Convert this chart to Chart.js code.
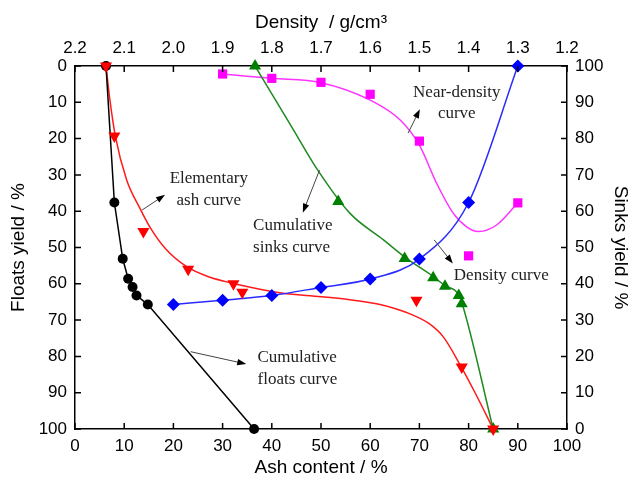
<!DOCTYPE html>
<html>
<head>
<meta charset="utf-8">
<script src="https://cdn.jsdelivr.net/npm/chart.js@4"></script>
<style>
  body { margin: 0; background: #fff; }
  canvas { display: block; }
</style>
</head>
<body>
<canvas id="washability" width="631" height="477"></canvas>
<script>
// cumulative floats (ash %, floats yield %)
const floatsAsh = [6.3, 8.0, 9.7, 10.8, 11.7, 12.5, 14.8, 36.4]
const floatsYield = [0, 37.6, 53.1, 58.6, 60.9, 63.2, 65.7, 100]

// elementary ash: measured points and the fitted curve
const elemAsh = [6.3, 8.0, 13.9, 23.0, 32.2, 34.0, 69.4, 78.6, 85]
const elemYield = [0, 19.3, 45.6, 56.0, 60.0, 62.3, 64.5, 82.9, 100]
const elemCurveAsh = [6.3, 7.1, 8.2, 10.5, 13.2, 15.2, 18.5, 22.7, 27, 32.2, 42.3, 47.8, 55.9, 61.3, 65, 68.1, 72, 74.9, 78.3, 81.5, 85]
const elemCurveYield = [0, 9.4, 19.3, 31.4, 39.2, 44.3, 50.5, 55.3, 58, 59.9, 62.6, 63.3, 64.4, 65.5, 66.8, 68.3, 71.0, 74.7, 82.4, 90.5, 100]

// cumulative sinks: points and curve
const sinksAsh = [36.6, 53.5, 67.0, 72.8, 75.2, 78.0, 78.6, 85]
const sinksYield = [0, 37.3, 53.0, 58.3, 60.7, 63.2, 65.5, 100]
const sinksCurveAsh = [36.6, 40, 44.4, 49.1, 55.9, 62.7, 67.4, 72.8, 75.2, 77.9, 78.7, 85]
const sinksCurveYield = [0, 7.7, 17.6, 28.2, 40.6, 47.9, 53.0, 58.0, 60.5, 62.8, 65.5, 100]

// density curve (density g/cm3, sinks yield %)
const densityD = [2.0, 1.9, 1.8, 1.7, 1.6, 1.5, 1.4, 1.3]
const densitySinks = [34.3, 35.5, 36.8, 39.0, 41.3, 46.8, 62.4, 100]

// near-density (±0.1) points and curve
const nearD = [1.9, 1.8, 1.7, 1.6, 1.5, 1.4, 1.3]
const nearSinks = [97.8, 96.6, 95.5, 92.2, 79.3, 47.7, 62.3]
const nearCurveD = [1.9, 1.8, 1.7, 1.6, 1.539, 1.5, 1.465, 1.431, 1.404, 1.38, 1.343, 1.3]
const nearCurveSinks = [97.8, 96.6, 95.4, 90.6, 85.1, 78.2, 67.7, 59.4, 55.7, 54.4, 56.2, 62.3]

const ashTicks = [0, 10, 20, 30, 40, 50, 60, 70, 80, 90, 100]
const densityTicks = [2.2, 2.1, 2.0, 1.9, 1.8, 1.7, 1.6, 1.5, 1.4, 1.3, 1.2]
const yieldTicks = [0, 10, 20, 30, 40, 50, 60, 70, 80, 90, 100]

const pts = (xs, ys) => xs.map((x, i) => ({x: x, y: ys[i]}))

// labels with arrows, placed in ash / floats-yield units
const notes = [
  {lines: ['Elementary', 'ash curve'], x: 27.2, y: [30.9, 37.1], align: 'center', arrow: [13.6, 39.7, 18.3, 35.5]},
  {lines: ['Cumulative', 'sinks curve'], x: 36.2, y: [44.0, 49.9], align: 'left', arrow: [49.7, 28.7, 46.3, 40.4]},
  {lines: ['Cumulative', 'floats curve'], x: 37.1, y: [80.2, 86.5], align: 'left', arrow: [23.5, 78.7, 34.8, 82.1]},
  {lines: ['Near-density', 'curve'], x: 77.6, y: [7.4, 13.2], align: 'center', arrow: [67.7, 18.5, 70.1, 11.9]},
  {lines: ['Density curve'], x: 77.0, y: [57.6], align: 'left', arrow: [73.0, 47.9, 76.8, 54.4]},
]

const notesPlugin = {
  id: 'notes',
  afterDatasetsDraw(chart) {
    const {ctx} = chart
    const sx = chart.scales.x, sy = chart.scales.y
    ctx.save()
    notes.forEach(n => {
      const [a1, b1, a2, b2] = n.arrow
      const x1 = sx.getPixelForValue(a1), y1 = sy.getPixelForValue(b1)
      const x2 = sx.getPixelForValue(a2), y2 = sy.getPixelForValue(b2)
      const ang = Math.atan2(y2 - y1, x2 - x1)
      ctx.strokeStyle = '#444'
      ctx.lineWidth = 1
      ctx.beginPath()
      ctx.moveTo(x1, y1)
      ctx.lineTo(x2 - 6 * Math.cos(ang), y2 - 6 * Math.sin(ang))
      ctx.stroke()
      ctx.fillStyle = '#000'
      ctx.beginPath()
      ctx.moveTo(x2, y2)
      ctx.lineTo(x2 - 9 * Math.cos(ang) + 3.2 * Math.sin(ang), y2 - 9 * Math.sin(ang) - 3.2 * Math.cos(ang))
      ctx.lineTo(x2 - 9 * Math.cos(ang) - 3.2 * Math.sin(ang), y2 - 9 * Math.sin(ang) + 3.2 * Math.cos(ang))
      ctx.closePath()
      ctx.fill()

      ctx.fillStyle = '#222'
      ctx.font = '17px "Liberation Serif", "Times New Roman", serif'
      ctx.textAlign = n.align
      ctx.textBaseline = 'middle'
      n.lines.forEach((t, i) => {
        ctx.fillText(t, sx.getPixelForValue(n.x), sy.getPixelForValue(n.y[i]))
      })
    })
    ctx.restore()
  }
}

// tick marks pointing into the plot on all four sides
const inwardTicks = {
  id: 'inwardTicks',
  afterDraw(chart) {
    const {ctx, chartArea} = chart
    const len = 6
    ctx.save()
    ctx.strokeStyle = '#000'
    ctx.lineWidth = 1.5
    ctx.beginPath()
    Object.values(chart.scales).forEach(s => {
      s.ticks.forEach(t => {
        const p = s.getPixelForValue(t.value)
        if (s.position === 'bottom') { ctx.moveTo(p, chartArea.bottom); ctx.lineTo(p, chartArea.bottom - len) }
        if (s.position === 'top') { ctx.moveTo(p, chartArea.top); ctx.lineTo(p, chartArea.top + len) }
        if (s.position === 'left') { ctx.moveTo(chartArea.left, p); ctx.lineTo(chartArea.left + len, p) }
        if (s.position === 'right') { ctx.moveTo(chartArea.right, p); ctx.lineTo(chartArea.right - len, p) }
      })
    })
    ctx.stroke()
    ctx.restore()
  }
}

const tickFont = {family: '"Liberation Sans", Arial, sans-serif', size: 17}
const titleFont = {family: '"Liberation Sans", Arial, sans-serif', size: 19, lineHeight: 1}

const axis = (extra) => Object.assign({
  type: 'linear',
  grid: {display: false, drawTicks: false},
  border: {display: true, color: '#000', width: 1.5},
}, extra)

const fixTicks = (values) => (scale) => { scale.ticks = values.map(v => ({value: v})) }

// first dataset is drawn on top
new Chart(document.getElementById('washability'), {
  type: 'scatter',
  data: {
    datasets: [
      {
        label: 'Elementary ash', data: pts(elemAsh, elemYield), xAxisID: 'x', yAxisID: 'y',
        showLine: false, pointStyle: 'triangle', pointRotation: 180, pointRadius: 7, backgroundColor: '#ff0000', pointBorderWidth: 0, clip: false,
      },
      {
        label: 'Cumulative sinks', data: pts(sinksAsh, sinksYield), xAxisID: 'x', yAxisID: 'y',
        showLine: false, pointStyle: 'triangle', pointRadius: 7, backgroundColor: '#008000', pointBorderWidth: 0, clip: false,
      },
      {
        label: 'Near-density', data: pts(nearD, nearSinks), xAxisID: 'x2', yAxisID: 'y2',
        showLine: false, pointStyle: 'rect', pointRadius: 6.5, backgroundColor: '#ff00ff', pointBorderWidth: 0, clip: false,
      },
      {
        label: 'Density curve', data: pts(densityD, densitySinks), xAxisID: 'x2', yAxisID: 'y2',
        showLine: true, cubicInterpolationMode: 'monotone', borderColor: '#2a2aff', borderWidth: 1.5,
        pointStyle: 'rectRot', pointRadius: 6.5, backgroundColor: '#0000ff', pointBorderWidth: 0, clip: false,
      },
      {
        label: 'Cumulative floats curve', data: pts(floatsAsh, floatsYield), xAxisID: 'x', yAxisID: 'y',
        showLine: true, tension: 0, borderColor: '#000', borderWidth: 1.5,
        pointStyle: 'circle', pointRadius: 5, backgroundColor: '#000', pointBorderWidth: 0, clip: false,
      },
      {
        label: 'Elementary ash fit', data: pts(elemCurveAsh, elemCurveYield), xAxisID: 'x', yAxisID: 'y',
        showLine: true, cubicInterpolationMode: 'monotone', borderColor: '#ff1a1a', borderWidth: 1.5, pointRadius: 0,
      },
      {
        label: 'Cumulative sinks fit', data: pts(sinksCurveAsh, sinksCurveYield), xAxisID: 'x', yAxisID: 'y',
        showLine: true, cubicInterpolationMode: 'monotone', borderColor: '#1f8a1f', borderWidth: 1.5, pointRadius: 0,
      },
      {
        label: 'Near-density fit', data: pts(nearCurveD, nearCurveSinks), xAxisID: 'x2', yAxisID: 'y2',
        showLine: true, cubicInterpolationMode: 'monotone', borderColor: '#ff33ff', borderWidth: 1.5, pointRadius: 0,
      },
    ]
  },
  options: {
    responsive: false,
    animation: false,
    layout: {padding: 0},
    plugins: {legend: {display: false}, tooltip: {enabled: false}},
    scales: {
      x: axis({
        position: 'bottom', min: 0, max: 100,
        afterBuildTicks: fixTicks(ashTicks),
        afterFit: s => { s.height = 48 },
        ticks: {font: tickFont, color: '#000', padding: 7, maxRotation: 0},
        title: {display: true, text: 'Ash content / %', font: titleFont, color: '#000', padding: {top: 0, bottom: 0}},
      }),
      x2: axis({
        position: 'top', min: 1.2, max: 2.2, reverse: true,
        afterBuildTicks: fixTicks(densityTicks),
        afterFit: s => { s.height = 66 },
        ticks: {font: tickFont, color: '#000', padding: 7, maxRotation: 0, callback: v => v.toFixed(1)},
        title: {display: true, text: 'Density  / g/cm\u00b3', font: titleFont, color: '#000', padding: {top: 13.5, bottom: 0}},
      }),
      y: axis({
        position: 'left', min: 0, max: 100, reverse: true,
        afterBuildTicks: fixTicks(yieldTicks),
        afterFit: s => { s.width = 75 },
        ticks: {font: tickFont, color: '#000', padding: 8},
        title: {display: true, text: 'Floats yield / %', font: titleFont, color: '#000', padding: {top: 9, bottom: 0}},
      }),
      y2: axis({
        position: 'right', min: 0, max: 100,
        afterBuildTicks: fixTicks(yieldTicks),
        afterFit: s => { s.width = 64 },
        ticks: {font: tickFont, color: '#000', padding: 8},
        title: {display: true, text: 'Sinks yield / %', font: titleFont, color: '#000', padding: {top: 1.5, bottom: 0}},
      }),
    }
  },
  plugins: [notesPlugin, inwardTicks]
})
</script>
</body>
</html>
